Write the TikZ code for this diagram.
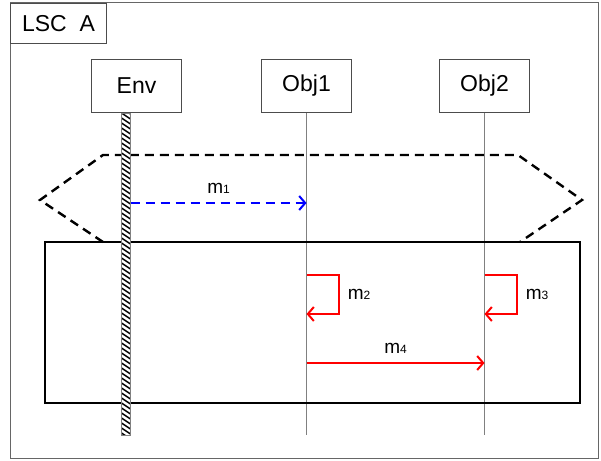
\documentclass[tikz,border=0pt]{standalone}
\usepackage{fontspec}
\setmainfont{Liberation Sans}
\usepackage{tikz}
\usetikzlibrary{positioning, arrows.meta, calc}

% message name with a small index on the baseline
\newcommand{\msgname}[1]{m{\fontsize{12}{12}\selectfont #1}}

\begin{document}
\begin{tikzpicture}[
        x=1pt, y=-1pt,
        % Define styles for the nodes
        base_box/.style={draw=black!70, line width=1pt, inner sep=0pt},
        obj_box/.style={base_box, minimum width=90pt, minimum height=53pt, font=\fontsize{23}{26}\selectfont},
        title_box/.style={base_box, minimum width=96pt, minimum height=40pt, font=\fontsize{23}{26}\selectfont},
        lifeline/.style={draw=black!50, line width=1.3pt},
        hatch/.style={line width=1.5pt},
        prechart/.style={draw, line width=2.4pt, dash pattern=on 9pt off 6pt},
        mainchart/.style={draw, line width=2.4pt},
        cold_msg/.style={-{Straight Barb[length=6pt, width=14pt]}, draw=blue, line width=2pt, dash pattern=on 9pt off 6pt},
        hot_msg/.style={-{Straight Barb[length=6pt, width=14pt]}, draw=red, line width=2pt},
        msg_label/.style={font=\fontsize{19}{20}\selectfont}
    ]

    \useasboundingbox (0,0) rectangle (601,460);

    % ==============================================
    % === FRAME AND INSTANCES ===
    % ==============================================
    \draw [draw=black!60, line width=1pt] (10,3) rectangle (598,458);
    \node (title) [title_box, anchor=north west] at (10,3) {LSC\ \ A};

    \node (env) [obj_box, anchor=north west] at (91,59) {Env};
    \node (obj1) [obj_box, right=79pt of env] {Obj1};
    \node (obj2) [obj_box, right=87pt of obj1] {Obj2};

    % Lifeline ends
    \coordinate (env_top) at ([xshift=-10.5pt]env.south);
    \coordinate (env_end) at (env_top |- 0,435);
    \coordinate (obj1_end) at (obj1.south |- 0,435);
    \coordinate (obj2_end) at (obj2.south |- 0,435);

    \draw [lifeline] (obj1.south) -- (obj1_end);
    \draw [lifeline] (obj2.south) -- (obj2_end);

    % ==============================================
    % === PRECHART AND MAIN CHART ===
    % ==============================================
    \draw [prechart] (103,242) -- (40,200) -- (103,155) -- (518,155) -- (582,200) -- (520,242);
    \draw [mainchart] (45,242) rectangle (580,403);

    % Environment lifeline (hatched strip)
    \fill [white] ([xshift=-4.5pt]env_top) rectangle ([xshift=4.5pt]env_end);
    \begin{scope}
        \clip ([xshift=-4.5pt]env_top) rectangle ([xshift=4.5pt]env_end);
        \foreach \d in {-10,-5,...,330}
            \draw [hatch] ([xshift=-4.5pt, yshift=-\d pt]env_top) -- ++(9,6);
    \end{scope}
    \draw [draw=black!50, line width=0.6pt] ([xshift=-4.5pt]env_top) rectangle ([xshift=4.5pt]env_end);

    % ==============================================
    % === MESSAGES ===
    % ==============================================
    \coordinate (m1_start) at ([xshift=4.5pt]env_top |- 0,203);
    \coordinate (m1_end) at (obj1.south |- 0,203);
    \draw [cold_msg] (m1_start) -- node [msg_label, above=5pt] {\msgname{1}} (m1_end);

    \coordinate (m2_start) at (obj1.south |- 0,275);
    \coordinate (m2_end) at (obj1.south |- 0,314);
    \draw [hot_msg] (m2_start) -- ++(32,0) |- node [msg_label, pos=0.25, right=5pt] {\msgname{2}} (m2_end);

    \coordinate (m3_start) at (obj2.south |- 0,275);
    \coordinate (m3_end) at (obj2.south |- 0,314);
    \draw [hot_msg] (m3_start) -- ++(32,0) |- node [msg_label, pos=0.25, right=5pt] {\msgname{3}} (m3_end);

    \coordinate (m4_start) at (obj1.south |- 0,363);
    \coordinate (m4_end) at (obj2.south |- 0,363);
    \draw [hot_msg] (m4_start) -- node [msg_label, above=5pt] {\msgname{4}} (m4_end);

\end{tikzpicture}
\end{document}
